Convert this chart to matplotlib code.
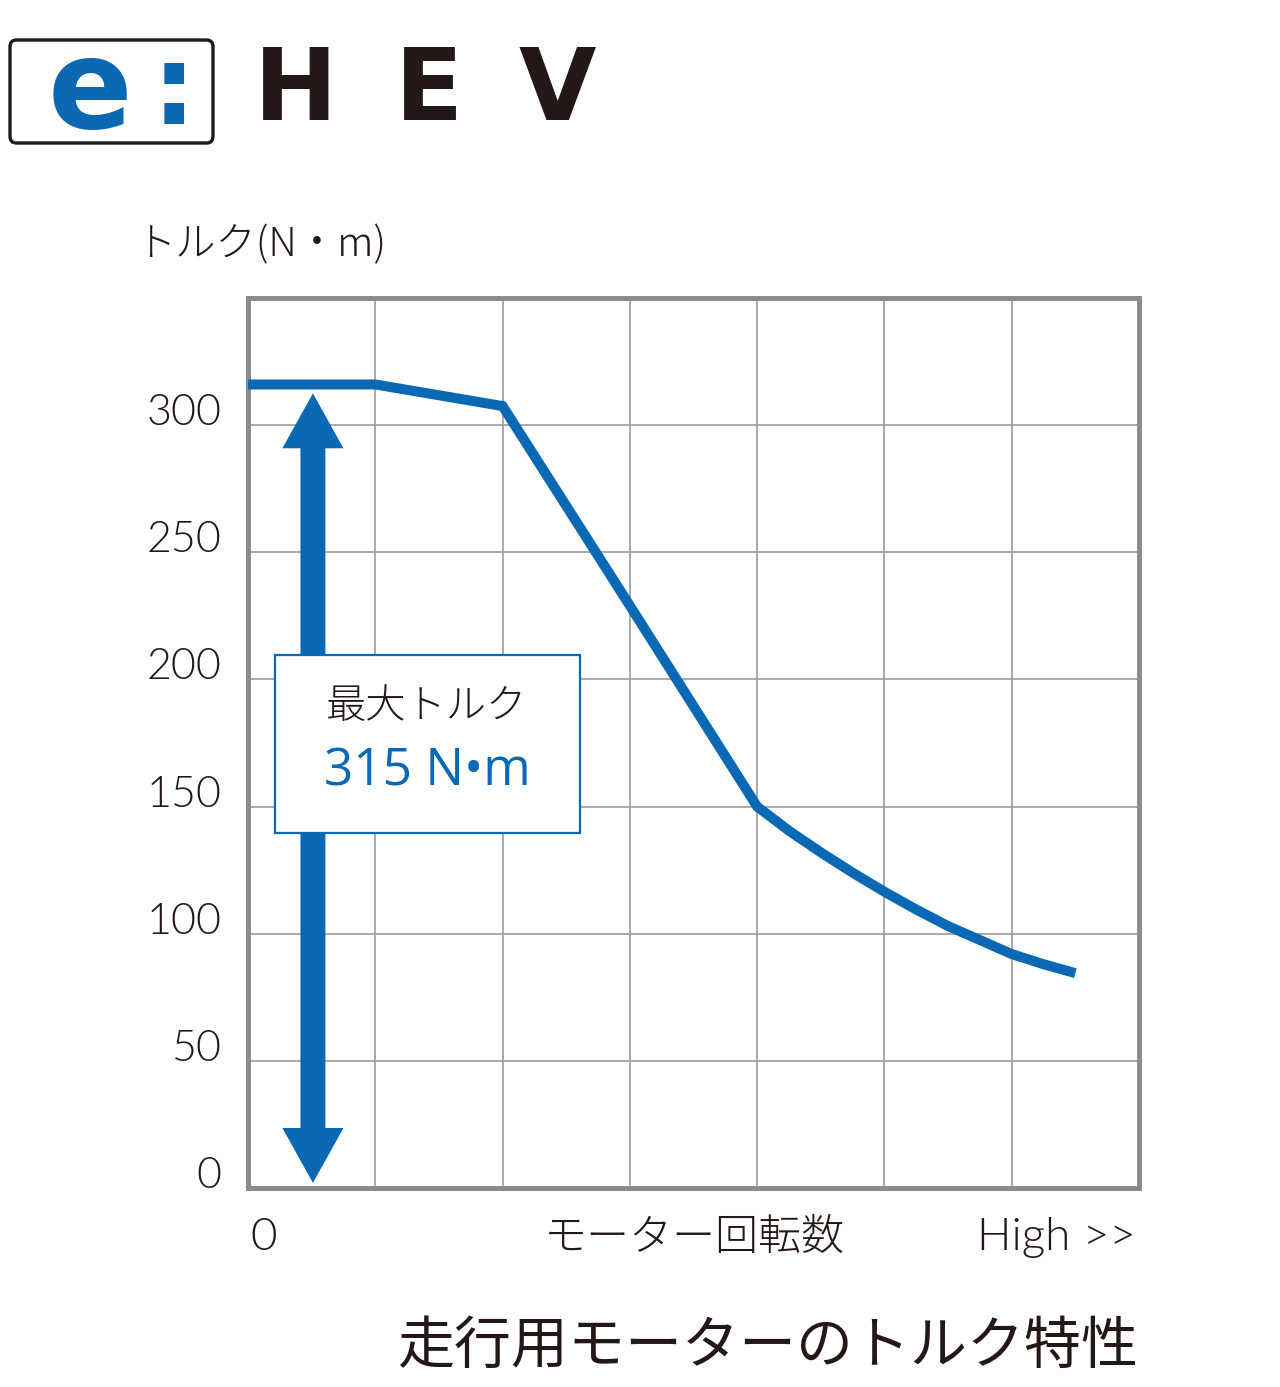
import matplotlib
matplotlib.use("Agg")
import matplotlib.pyplot as plt
from matplotlib.patches import FancyBboxPatch, Rectangle, FancyArrow

# ---- data ----
speed = [0, 1, 2, 3, 4, 4.25, 4.5, 4.75, 5, 5.25, 5.5, 5.75, 6, 6.25, 6.5]
torque = [316, 316, 307.5, 229, 150, 140.5, 132, 124, 116.5, 109.5, 103, 97.5, 92, 88, 84.5]
y_ticks = [0, 50, 100, 150, 200, 250, 300]
x_grid = [0, 1, 2, 3, 4, 5, 6, 7]
max_torque_label = "315 N•m"
arrow_x = 0.51
arrow_range = (2, 312.5)

BLUE = "#0a68b5"
DARK = "#231815"
GRID = "#a3a3a3"
FRAME = "#8c8c8c"

W, H = 1280, 1387
def fx(x): return x / W
def fy(y): return 1 - y / H

JP = ["Noto Sans CJK JP", "DejaVu Sans"]
NUM = ["Lato", "DejaVu Sans"]

fig = plt.figure(figsize=(12.8, 13.87), dpi=100)
ax = fig.add_axes([fx(248), fy(1188), (1139 - 248) / W, (1188 - 298) / H])
ax.set_xlim(0, 7)
ax.set_ylim(0, 350)
ax.set_axisbelow(True)

ax.set_xticks(x_grid)
ax.set_xticklabels([])
ax.set_yticks(y_ticks + [350])
ax.set_yticklabels([str(v) for v in y_ticks] + [""])
ax.tick_params(axis="both", length=0)
ax.tick_params(axis="y", pad=19, labelsize=31, labelcolor=DARK)
for lab in ax.get_yticklabels():
    lab.set_family(NUM)
    lab.set_fontweight(300)
    lab.set_va("baseline")
ax.grid(True, color=GRID, lw=1.3)
for s in ax.spines.values():
    s.set_color(FRAME)
    s.set_linewidth(3.6)

# torque curve
ax.plot(speed, torque, color=BLUE, lw=7.2, solid_joinstyle="miter", solid_capstyle="butt", zorder=4)

# double-headed arrow
mid = (arrow_range[0] + arrow_range[1]) / 2
for end in arrow_range:
    ax.add_patch(FancyArrow(arrow_x, mid, 0, end - mid, width=0.196, head_width=0.48,
                            head_length=21.6, length_includes_head=True,
                            color=BLUE, lw=0, zorder=3))

# label box
ax.add_patch(Rectangle((0.212, 139.8), 2.396, 70, facecolor="white", edgecolor=BLUE,
                       lw=1.6, zorder=5))
ax.text(1.406, 189, "最大トルク", ha="center", va="center", fontsize=29,
        color=DARK, family=JP, fontweight=300, zorder=6)
ax.text(1.406, 163.4, max_torque_label, ha="center", va="center", fontsize=37,
        color=BLUE, family=["Open Sans", "DejaVu Sans"], zorder=6)

# axis texts
fig.text(fx(135), fy(245), "トルク(N・m)", ha="left", va="center", fontsize=29,
         color=DARK, family=JP, fontweight=300)
fig.text(fx(250), fy(1237), "0", ha="left", va="center", fontsize=33,
         color=DARK, family=NUM, fontweight=300)
fig.text(fx(694), fy(1237), "モーター回転数", ha="center", va="center", fontsize=31,
         color=DARK, family=JP, fontweight=300)
fig.text(fx(1136), fy(1237), "High >>", ha="right", va="center", fontsize=33,
         color=DARK, family=NUM, fontweight=300)

# title
fig.text(fx(1138), fy(1347), "走行用モーターのトルク特性", ha="right", va="center",
         fontsize=41, color=DARK, family=JP)

# logo
fig.patches.append(FancyBboxPatch((fx(10), fy(143)), (213 - 10) / W, (143 - 40) / H,
                                  boxstyle="round,pad=0,rounding_size=0.005",
                                  transform=fig.transFigure, facecolor="white",
                                  edgecolor="#1a1a1a", lw=2.4))
fig.text(fx(90), fy(94), "e", ha="center", va="center", fontsize=90, color=BLUE,
         family="DejaVu Sans", fontweight="bold")
fig.text(fx(174), fy(94), ":", ha="center", va="center", fontsize=80, color=BLUE,
         family="DejaVu Sans", fontweight="bold")
for letter, cx in zip("HEV", [296, 429, 557]):
    fig.text(fx(cx), fy(92), letter, ha="center", va="center", fontsize=72,
             color=DARK, family="DejaVu Sans", fontweight="bold")

fig.savefig("out.png", dpi=100, facecolor="white")
